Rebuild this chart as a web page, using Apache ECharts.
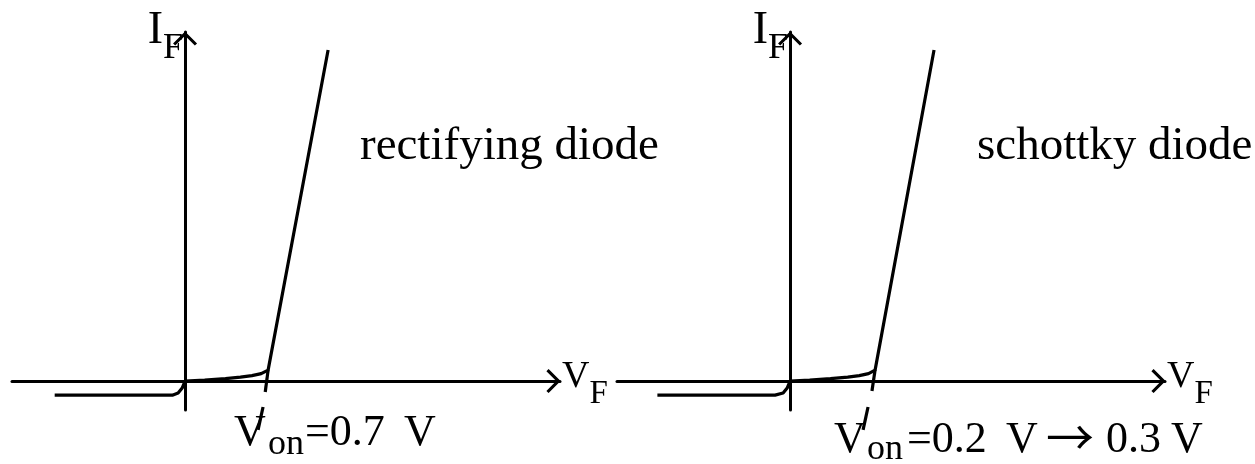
<!DOCTYPE html>
<html>
<head>
<meta charset="utf-8">
<script src="https://cdn.jsdelivr.net/npm/echarts@6.0.0/dist/echarts.min.js"></script>
<style>
  html, body { margin: 0; padding: 0; background: #fff; }
  #main { width: 1255px; height: 464px; }
</style>
</head>
<body>
<div id="main"></div>
<script>
// forward voltage (V) / forward current (arb. units)
const rectCurve = [[-1.13, -1.41], [-0.11, -1.41], [-0.06, -1.2], [-0.025, -0.7], [0, 0],
  [0.17, 0.1], [0.35, 0.25], [0.48, 0.4], [0.58, 0.55], [0.66, 0.75], [0.72, 1.1], [1.24, 33.2]];
const rectTangent = [[0.72, 1.1], [0.695, -1.1]];
const rectTangentLow = [[0.676, -2.6], [0.633, -4.9]];

const schCurve = [[-1.15, -1.41], [-0.13, -1.41], [-0.06, -1.2], [-0.025, -0.7], [0, 0],
  [0.17, 0.1], [0.35, 0.25], [0.5, 0.4], [0.6, 0.55], [0.68, 0.75], [0.737, 1.1], [1.248, 33.2]];
const schTangent = [[0.737, 1.1], [0.71, -1.0]];
const schTangentLow = [[0.676, -2.6], [0.633, -4.9]];

const xRange = [-1.5, 3.25];
const yRange = [-2.9, 35];

const titles = ['rectifying diode', 'schottky diode'];

const serif = "'Liberation Serif','Times New Roman',serif";
const chevron = 'path://M0 12 L12 0 L24 12 L21.8 14.2 L12 4.4 L2.2 14.2 Z';

function axisLine() {
  return {
    show: true,
    onZero: true,
    symbol: ['none', chevron],
    symbolSize: [24, 14.2],
    symbolOffset: [0, -6.5],
    lineStyle: { color: '#000', width: 3 }
  };
}

function xAxis(i) {
  return {
    type: 'value', gridIndex: i, min: xRange[0], max: xRange[1],
    axisLine: axisLine(), axisTick: { show: false }, axisLabel: { show: false }, splitLine: { show: false },
    name: '{v|V}{s|F}', nameLocation: 'end', nameGap: 2,
    nameTextStyle: {
      padding: [7, 0, 0, 0],
      rich: {
        v: { fontSize: 38, fontFamily: serif, color: '#000', padding: [0, 0, 15, 0], verticalAlign: 'bottom' },
        s: { fontSize: 33, fontFamily: serif, color: '#000', verticalAlign: 'bottom' }
      }
    }
  };
}

function yAxis(i) {
  return {
    type: 'value', gridIndex: i, min: yRange[0], max: yRange[1],
    axisLine: axisLine(), axisTick: { show: false }, axisLabel: { show: false }, splitLine: { show: false },
    name: '{i|I}{s|F}', nameLocation: 'end', nameGap: -35,
    nameTextStyle: {
      align: 'right',
      padding: [0, 2, 0, 0],
      rich: {
        i: { fontSize: 46, fontFamily: serif, color: '#000', padding: [0, 0, 13, 0], verticalAlign: 'bottom' },
        s: { fontSize: 36, fontFamily: serif, color: '#000', verticalAlign: 'bottom' }
      }
    }
  };
}

function line(i, data, clip) {
  return {
    type: 'line', xAxisIndex: i, yAxisIndex: i, data: data,
    showSymbol: false, symbol: 'none', clip: clip, silent: true,
    lineStyle: { color: '#000', width: 3.2 }
  };
}

function txt(x, y, text, size, family) {
  return {
    type: 'text', x: x, y: y, silent: true,
    style: { text: text, font: size + 'px ' + (family || serif), fill: '#000', align: 'left', verticalAlign: 'middle', textAlign: 'left', textVerticalAlign: 'middle' }
  };
}

const chart = echarts.init(document.getElementById('main'));
chart.setOption({
  animation: false,
  backgroundColor: '#fff',
  grid: [
    { left: 12, right: 695, top: 32, bottom: 54, outerBoundsMode: 'none' },
    { left: 617, right: 90, top: 32, bottom: 54, outerBoundsMode: 'none' }
  ],
  xAxis: [xAxis(0), xAxis(1)],
  yAxis: [yAxis(0), yAxis(1)],
  series: [
    line(0, rectCurve, true),
    line(0, rectTangent, false),
    line(0, rectTangentLow, false),
    line(1, schCurve, true),
    line(1, schTangent, false),
    line(1, schTangentLow, false)
  ],
  graphic: [
    txt(360, 146.5, titles[0], 47),
    txt(977, 146.5, titles[1], 47),
    // V_on = 0.7 V
    txt(234, 433, 'V', 44),
    txt(268, 445, 'on', 36),
    txt(305, 433, '=0.7', 44),
    txt(404, 433, 'V', 44),
    // V_on = 0.2 V -> 0.3 V
    txt(834, 440, 'V', 44),
    txt(867, 450, 'on', 36),
    txt(907, 440, '=0.2', 44),
    txt(1006, 440, 'V', 44),
    txt(1046, 437, '\u2192', 48, "'Noto Sans CJK SC',sans-serif"),
    txt(1106, 440, '0.3', 44),
    txt(1171, 440, 'V', 44)
  ]
});
</script>
</body>
</html>
